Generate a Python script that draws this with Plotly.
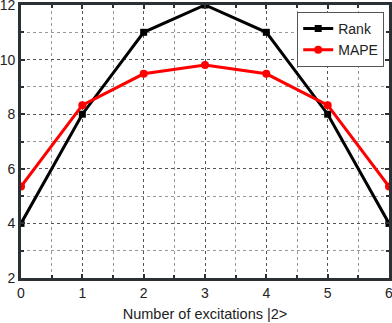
import plotly.graph_objects as go

x_exc = [0, 1, 2, 3, 4, 5, 6]
rank = [4, 8, 11, 12, 11, 8, 4]
mape = [5.35, 8.33, 9.48, 9.8, 9.48, 8.33, 5.35]

fig = go.Figure()
fig.add_trace(go.Scatter(
    x=x_exc, y=rank, name='Rank', mode='lines+markers',
    line=dict(color='black', width=3),
    marker=dict(symbol='square', size=7, color='black')
))
fig.add_trace(go.Scatter(
    x=x_exc, y=mape, name='MAPE', mode='lines+markers',
    line=dict(color='#ff0000', width=3),
    marker=dict(symbol='circle', size=8, color='#ff0000')
))

axis_common = dict(
    showline=True, linewidth=3, linecolor='#2b3035', mirror='ticks',
    ticks='inside', ticklen=4, tickwidth=2, tickcolor='#2b3035',
    showgrid=True, gridcolor='#555555', gridwidth=1, griddash='dot',
    zeroline=False, automargin=False, ticklabeloverflow='allow',
    tickfont=dict(size=14, color='#222222'),
)

fig.update_xaxes(
    range=[0, 6], dtick=1, **axis_common,
    minor=dict(dtick=0.5, showgrid=True, gridcolor='#999999', griddash='dot',
               ticks='inside', ticklen=3, tickcolor='#2b3035'),
    title=dict(text='Number of excitations |2>', font=dict(size=14.5, color='#222222'), standoff=10),
)
fig.update_yaxes(
    range=[2, 12], dtick=2, **axis_common,
    minor=dict(dtick=1, showgrid=True, gridcolor='#999999', griddash='dot',
               ticks='inside', ticklen=3, tickcolor='#2b3035'),
)

fig.update_layout(
    width=392, height=323,
    margin=dict(l=21, r=3, t=5, b=45),
    plot_bgcolor='white', paper_bgcolor='white',
    font=dict(family='Liberation Sans, Arial, sans-serif', color='#222222'),
    legend=dict(
        x=0.987, y=0.975, xanchor='right', yanchor='top',
        bgcolor='white', bordercolor='#555555', borderwidth=1,
        font=dict(size=14), tracegroupgap=0, itemwidth=30,
    ),
    showlegend=True,
)

fig.write_html("out.html", config={'displayModeBar': False},
               post_script="document.body.style.margin='0';")
